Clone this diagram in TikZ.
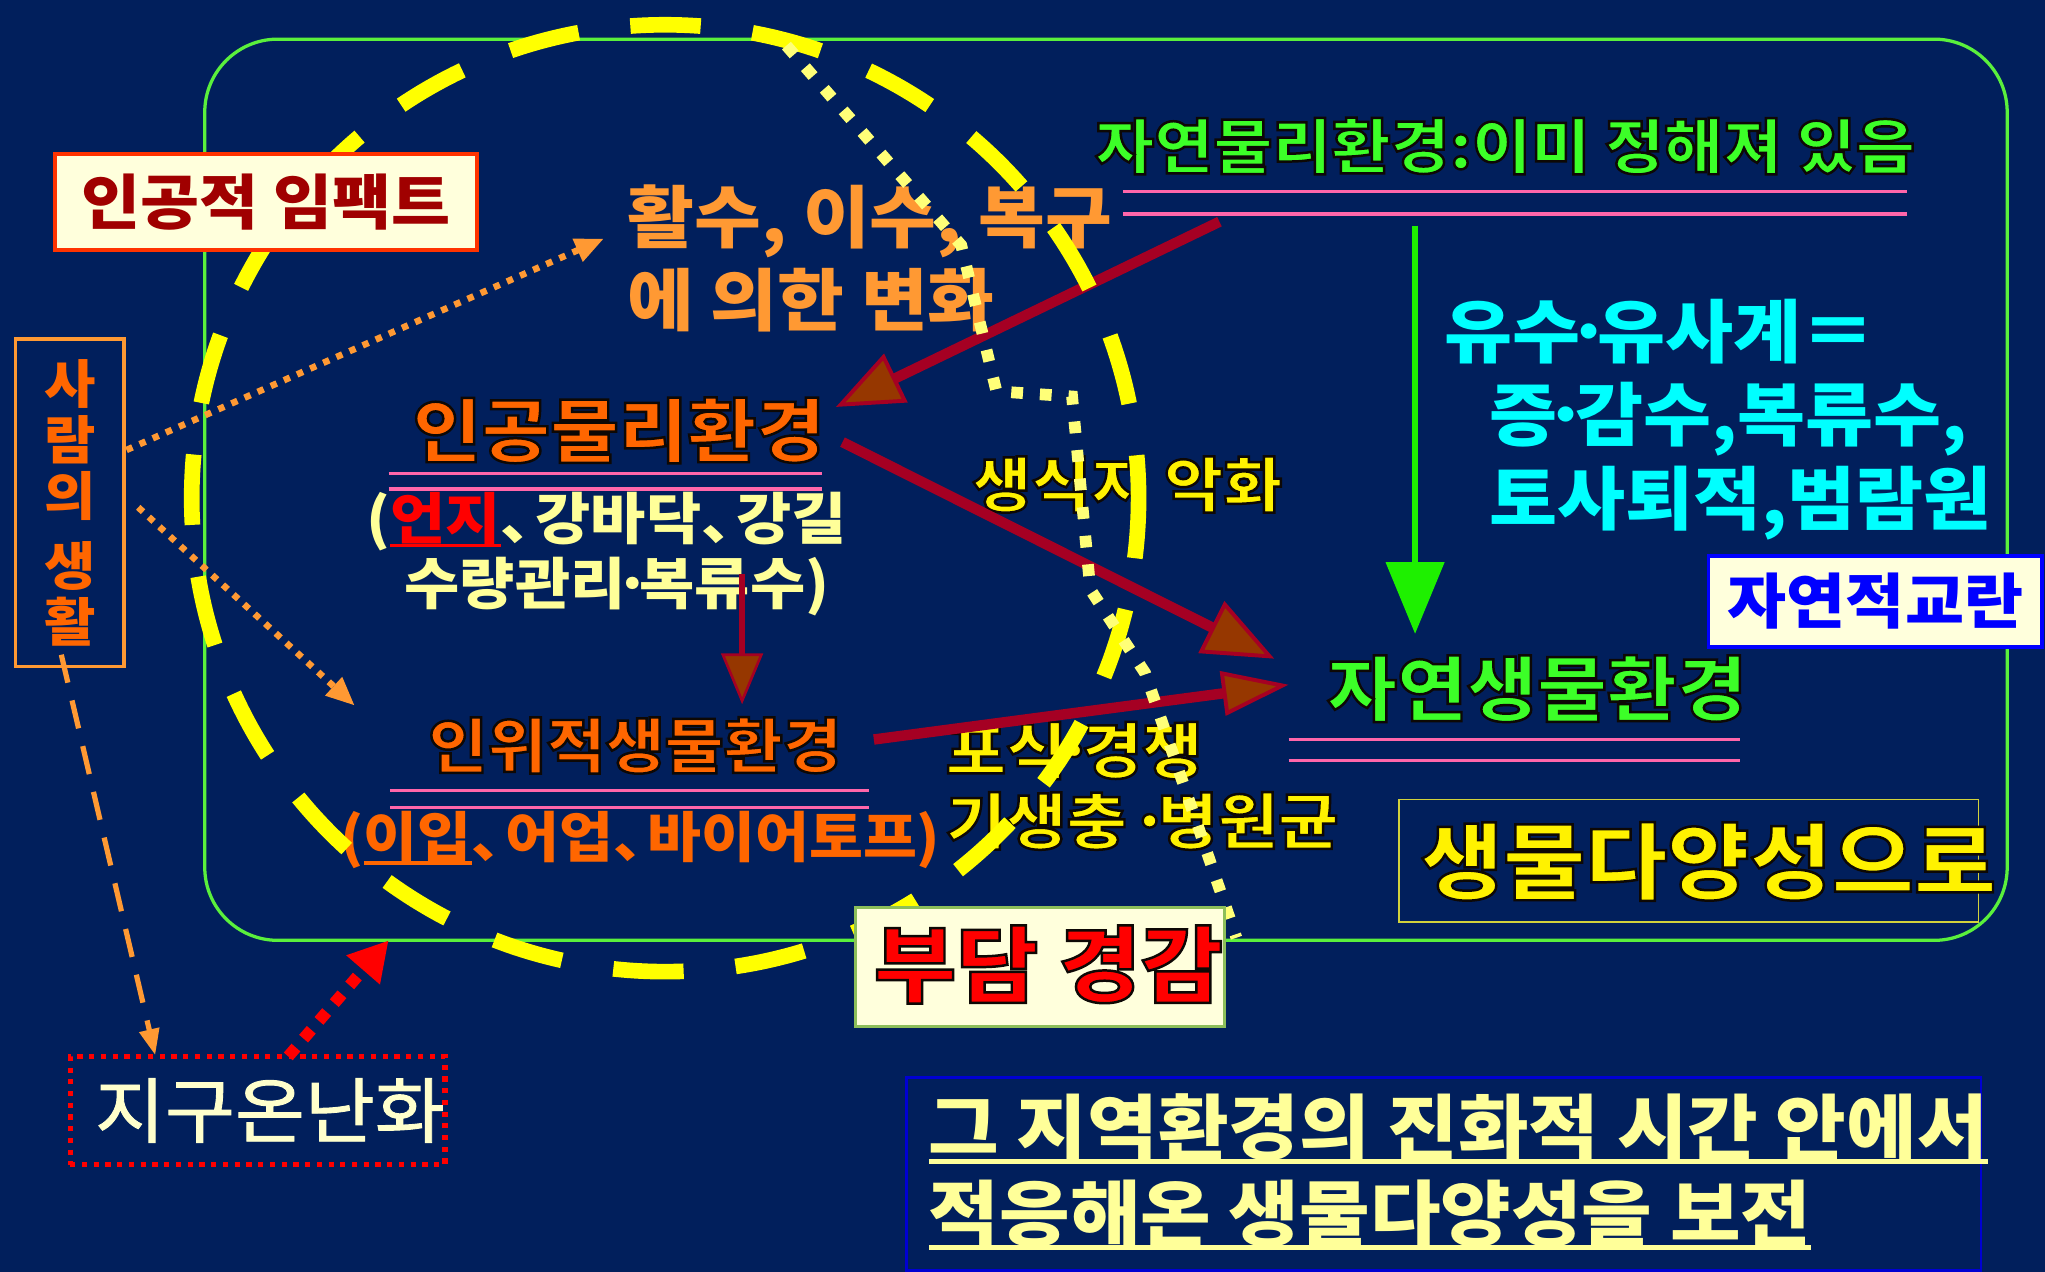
\documentclass[tikz,border=0pt]{standalone}
\usepackage{fontspec}
\setmainfont{Noto Sans CJK KR}[FakeStretch=1.07]
\usetikzlibrary{arrows.meta,calc}
\definecolor{bg}{RGB}{1,31,92}
\definecolor{rimgreen}{RGB}{90,240,60}
\definecolor{dashyel}{RGB}{255,255,0}
\definecolor{dotyel}{RGB}{255,255,120}
\definecolor{crim}{RGB}{165,0,35}
\definecolor{headbrown}{RGB}{150,55,0}
\definecolor{aorange}{RGB}{255,153,51}
\definecolor{rorange}{RGB}{255,102,0}
\definecolor{paleyel}{RGB}{255,255,153}
\definecolor{pinkul}{RGB}{255,102,170}
\definecolor{natgreen}{RGB}{60,255,40}
\definecolor{arrgreen}{RGB}{30,240,0}
\definecolor{cyantext}{RGB}{0,255,255}
\definecolor{cream}{RGB}{255,255,220}
\definecolor{impred}{RGB}{160,0,0}
\definecolor{impframe}{RGB}{255,51,0}
\definecolor{bluetext}{RGB}{0,0,255}
\definecolor{boxblue}{RGB}{0,0,210}
\definecolor{warmtext}{RGB}{255,255,204}
\definecolor{bioframe}{RGB}{210,210,60}
\definecolor{burdenframe}{RGB}{140,190,90}
\newcommand\myul[1]{\leavevmode\setbox0=\hbox{#1}\rlap{\rule[-0.14em]{\wd0}{0.07em}}\box0}
\newcommand\ten{、\kern-0.45em}
\newcommand\md{\kern-0.2em·\kern-0.2em}
\newcommand\halo[1]{\special{pdf:literal direct 0.05 0.03 0.02 RG 1.9 w 2 Tr}#1\special{pdf:literal direct 0 Tr}}
\begin{document}
\begin{tikzpicture}[x=1pt,y=-1pt,
  every node/.style={inner sep=0pt},
  kb/.style={font=\fontsize{#1}{#1}\selectfont\bfseries},
  pinkline/.style={pinkul, line width=2.5pt},
  bigarrow/.style={crim, line width=8pt},
  odot/.style={aorange, line width=5pt, dash pattern=on 5pt off 6pt, -{Triangle[length=22pt,width=18pt]}},
]
\useasboundingbox (0,0) rectangle (1568,975);
\fill[bg] (0,0) rectangle (1568,975);

% green frame
\draw[rimgreen, line width=2.5pt, rounded corners=56pt] (157,30) rectangle (1539,721);

% texts
\node[font=\fontsize{52}{64}\selectfont\bfseries, text=aorange, align=left, anchor=west] (change) at (481,198) {활수, 이수, 복구\\에 의한 변화};

\node[kb=53.5, text=rorange] (artphys) at (474.5,330) {\halo{인공물리환경}};
\draw[pinkline] (298,363) -- (630,363) (298,375) -- (630,375);
\node[kb=43, text=paleyel] (artlistA) at (465,400) {(\textcolor{red}{\myul{언지}}\ten 강바닥\ten 강길};
\node[kb=43, text=paleyel] (artlistB) at (473,450) {수량관리\md 복류수)};

\node[kb=46, text=rorange] (artbio) at (487,571.5) {\halo{인위적생물환경}};
\draw[pinkline] (299,606) -- (666,606) (299,619) -- (666,619);
\node[kb=42, text=rorange] (biolist) at (491,644) {(\myul{이입}\ten 어업\ten 바이어토프)};

\node[kb=46, text=yellow] (habitat) at (864.5,371.5) {\halo{생식지 악화}};
\node[kb=47, text=yellow, anchor=west] (pred) at (725,575.5) {\halo{포식\md 경쟁}};
\node[kb=47, text=yellow, anchor=west] (paras) at (725,629.5) {\halo{기생충 \md 병원균}};

\node[kb=46, text=natgreen] (natphys) at (1154,112) {\halo{자연물리환경:이미 정해져 있음}};
\draw[pinkline] (861,147) -- (1462,147) (861,164) -- (1462,164);

\node[font=\fontsize{53}{64}\selectfont\bfseries, text=cyantext, align=left, anchor=west] (flow) at (1107,321.5) {유수\md 유사계＝\\\hspace*{35pt}증\md 감수,복류수,\\\hspace*{35pt}토사퇴적,범람원};

\node[kb=46, text=bluetext, fill=cream, draw=bluetext, line width=3pt, minimum width=256, minimum height=70] (disturb) at (1438,461) {자연적교란};

\node[kb=54.5, text=natgreen] (natbio) at (1178.5,528) {\halo{자연생물환경}};
\draw[pinkline] (988,567) -- (1334,567) (988,583) -- (1334,583);

\draw[bioframe, line width=1.5pt] (1073,613) rectangle (1517,707);
\node[kb=64, text=yellow] (biodiv) at (1310,660.5) {\halo{생물다양성으로}};

\node[draw=aorange, line width=2.5pt, minimum width=83, minimum height=251, text=rorange, align=center, font=\fontsize{40}{43}\selectfont\bfseries] (life) at (53.5,385.5) {사\\람\\의\\[11pt]생\\활};

\node[draw=red, line width=4pt, dash pattern=on 4pt off 5pt, minimum width=287, minimum height=83, text=warmtext, font=\fontsize{54.5}{54.5}\selectfont\addfontfeature{FakeBold=1.3}] (warm) at (197.5,851.5) {\hspace*{19pt}지구온난화};

\node[draw=boxblue, line width=2pt, minimum width=824, minimum height=148] (goalbox) at (1107,900) {};
\node[font=\fontsize{55}{66}\selectfont\bfseries, text=paleyel, align=left, anchor=west] (goal) at (712,898.5) {\myul{그 지역환경의 진화적 시간 안에서}\\\myul{적응해온 생물다양성을 보전}};

% connectors
\coordinate (aS) at (935,170); \coordinate (aT) at (641,312);
\draw[bigarrow, -{Triangle[length=51pt,width=41pt,fill=headbrown,line width=3pt]}] (aS) -- (aT);
\coordinate (bS) at (646,339); \coordinate (bT) at (977,505);
\draw[bigarrow, -{Triangle[length=54pt,width=44pt,fill=headbrown,line width=3pt]}] (bS) -- (bT);
\coordinate (cS) at (670,567); \coordinate (cT) at (988,525);
\draw[bigarrow, -{Triangle[length=51pt,width=34pt,fill=headbrown,line width=3pt]}] (cS) -- (cT);
\coordinate (dS) at (569,440); \coordinate (dT) at (569,540);
\draw[crim, line width=4pt, -{Triangle[length=39pt,width=32pt,fill=headbrown,line width=2pt]}] (dS) -- (dT);
\coordinate (gS) at (1085,173); \coordinate (gT) at (1085,486);
\draw[arrgreen, line width=5pt, -{Triangle[length=55pt,width=44pt]}] (gS) -- (gT);

\coordinate (o1S) at (97,345); \coordinate (o1T) at (463,183);
\draw[odot] (o1S) -- (o1T);
\coordinate (o2S) at (106,389); \coordinate (o2T) at (272,541);
\draw[odot] (o2S) -- (o2T);
\coordinate (o3S) at (47,502); \coordinate (o3T) at (119,809);
\draw[aorange, line width=4pt, dash pattern=on 22pt off 14pt, -{Triangle[length=20pt,width=15pt]}] (o3S) -- (o3T);
\coordinate (rS) at (221,810); \coordinate (rT) at (298,721);
\draw[red, line width=9pt, dash pattern=on 9pt off 9pt, -{Triangle[length=30pt,width=32pt]}] (rS) -- (rT);

% big dashed circle and dotted path
\draw[dashyel, line width=12pt, dash pattern=on 54pt off 40pt, dash phase=21pt] (510,382) circle[radius=363pt];
\draw[dotyel, line width=9pt, dash pattern=on 9pt off 13pt] (603,35) -- (737,188) -- (764,300) -- (822,304) -- (836,452) -- (878,516) -- (948,719);

% boxes on top
\node[kb=46, text=impred, fill=cream, draw=impframe, line width=3pt, minimum width=324, minimum height=74] (impact) at (204,155) {인공적 임팩트};
\node[fill=cream, draw=burdenframe, line width=2pt, minimum width=283, minimum height=91] (burdenbox) at (797.5,741.5) {};
\node[kb=64, text=red] (burden) at (804,739.5) {\halo{부담 경감}};
\end{tikzpicture}
\end{document}
